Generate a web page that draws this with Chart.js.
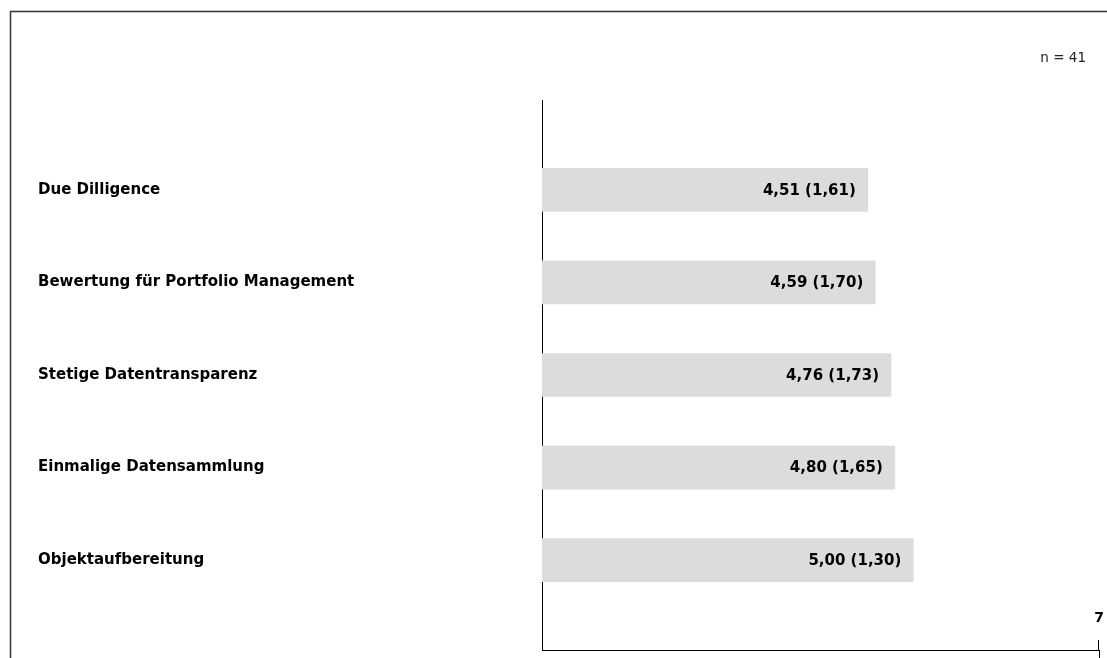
<!DOCTYPE html>
<html>
<head>
<meta charset="utf-8">
<script src="https://cdn.jsdelivr.net/npm/chart.js@4"></script>
<style>
  html, body { margin: 0; padding: 0; background: #fff; }
  canvas { display: block; }
</style>
</head>
<body>
<canvas id="myChart" width="1107" height="658"></canvas>
<script>
// werte aus der umfrage (mittelwert, standardabweichung)
var categories = ['Due Dilligence', 'Bewertung für Portfolio Management', 'Stetige Datentransparenz', 'Einmalige Datensammlung', 'Objektaufbereitung'];
var means = [4.51, 4.59, 4.76, 4.80, 5.00];
var stdDevs = [1.61, 1.70, 1.73, 1.65, 1.30];
var xTicks = [7];
var sampleText = 'n = 41';

var labelFont = 'bold 15px "DejaVu Sans"';

function fmt(v) {
    return v.toFixed(2).replace('.', ',');
}

// rahmen oben/links, n = 41 und die werte in den balken
var extras = {
    id: 'extras',
    beforeDraw: function (chart) {
        var ctx = chart.ctx;
        ctx.save();
        ctx.strokeStyle = '#333';
        ctx.lineWidth = 1.5;
        ctx.beginPath();
        ctx.moveTo(10.5, 658);
        ctx.lineTo(10.5, 11.5);
        ctx.lineTo(1107, 11.5);
        ctx.stroke();
        ctx.fillStyle = '#222';
        ctx.font = '13.5px "DejaVu Sans"';
        ctx.textAlign = 'right';
        ctx.textBaseline = 'middle';
        ctx.fillText(sampleText, 1086, 58);
        ctx.restore();
    },
    afterDraw: function (chart) {
        // tick strich geht im original auch nach oben
        var ctx = chart.ctx;
        var xs = chart.scales.x;
        ctx.save();
        ctx.strokeStyle = '#000';
        ctx.lineWidth = 1;
        xTicks.forEach(function (t) {
            var px = Math.round(xs.getPixelForValue(t)) - 0.5;
            ctx.beginPath();
            ctx.moveTo(px, xs.top - 10);
            ctx.lineTo(px, xs.top);
            ctx.stroke();
        });
        ctx.restore();
    },
    afterDatasetsDraw: function (chart) {
        var ctx = chart.ctx;
        var meta = chart.getDatasetMeta(0);
        ctx.save();
        ctx.font = labelFont;
        ctx.fillStyle = '#000';
        ctx.textAlign = 'right';
        ctx.textBaseline = 'middle';
        meta.data.forEach(function (bar, i) {
            ctx.fillText(fmt(means[i]) + ' (' + fmt(stdDevs[i]) + ')', bar.x - 12, bar.y + 1);
        });
        ctx.restore();
    }
};

var data = [];
for (let i = 0; i < means.length; i++) {
    data.push({ x: means[i], y: i });
}

new Chart(document.getElementById('myChart'), {
    type: 'bar',
    data: {
        datasets: [{
            data: data,
            backgroundColor: '#dcdcdc',
            barThickness: 43
        }]
    },
    options: {
        indexAxis: 'y',
        responsive: false,
        animation: false,
        layout: {
            padding: { left: 38, right: 8, top: 100, bottom: 0 }
        },
        plugins: {
            legend: { display: false },
            tooltip: { enabled: false }
        },
        scales: {
            x: {
                type: 'linear',
                min: 1,
                max: 7,
                afterBuildTicks: function (scale) {
                    scale.ticks = xTicks.map(function (v) { return { value: v }; });
                },
                afterFit: function (scale) {
                    scale.height = 8;
                    scale.paddingLeft = 0;
                    scale.paddingRight = 0;
                },
                grid: { drawOnChartArea: false, tickLength: 8, color: '#000' },
                border: { display: true, color: '#000', width: 1 },
                ticks: {
                    mirror: true,
                    padding: 23,
                    color: '#000',
                    font: { family: 'DejaVu Sans', size: 14, weight: 'bold' }
                }
            },
            y: {
                type: 'linear',
                reverse: true,
                offset: false,
                min: -0.97,
                max: 4.97,
                afterBuildTicks: function (scale) {
                    scale.ticks = categories.map(function (c, i) { return { value: i }; });
                },
                afterFit: function (scale) {
                    scale.width = 504;
                    scale.paddingTop = 0;
                    scale.paddingBottom = 0;
                },
                grid: { display: false, offset: false },
                border: { display: true, color: '#000', width: 1 },
                ticks: {
                    autoSkip: false,
                    crossAlign: 'far',
                    color: '#000',
                    font: { family: 'DejaVu Sans', size: 15, weight: 'bold' },
                    callback: function (v) { return categories[v]; }
                }
            }
        }
    },
    plugins: [extras]
});
</script>
</body>
</html>
